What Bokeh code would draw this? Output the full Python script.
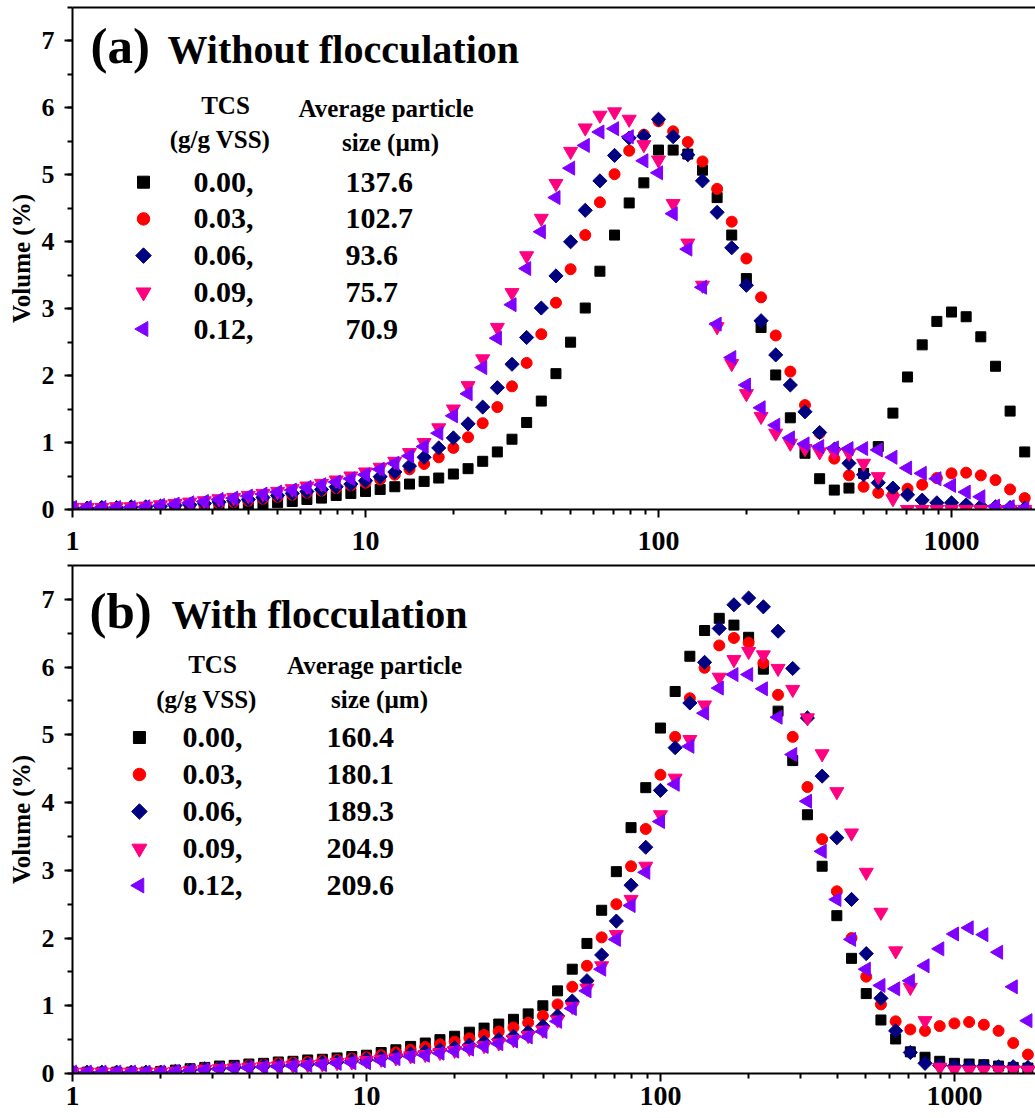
import math
from bokeh.plotting import figure
from bokeh.models import (Range1d, FixedTicker, SingleIntervalTicker, LinearAxis,
                          LinearScale, Label)
from bokeh.layouts import column
from bokeh.embed import file_html
from bokeh.resources import INLINE

FONT = "Liberation Serif"

# particle size bins (um)
SIZE_UM = [1.000, 1.122, 1.259, 1.413, 1.585, 1.778, 1.995, 2.239, 2.512, 2.818,
           3.162, 3.548, 3.981, 4.467, 5.012, 5.623, 6.310, 7.079, 7.943, 8.913,
           10.00, 11.22, 12.59, 14.13, 15.85, 17.78, 19.95, 22.39, 25.12, 28.18,
           31.62, 35.48, 39.81, 44.67, 50.12, 56.23, 63.10, 70.79, 79.43, 89.13,
           100.0, 112.2, 125.9, 141.3, 158.5, 177.8, 199.5, 223.9, 251.2, 281.8,
           316.2, 354.8, 398.1, 446.7, 501.2, 562.3, 631.0, 707.9, 794.3, 891.3,
           1000, 1122, 1259, 1413, 1585, 1778]

TCS = ["0.00", "0.03", "0.06", "0.09", "0.12"]
AVG_SIZE_A = ["137.6", "102.7", "93.6", "75.7", "70.9"]
AVG_SIZE_B = ["160.4", "180.1", "189.3", "204.9", "209.6"]

X_TICKS = [1, 10, 100, 1000]
X_TICK_LABELS = ["1", "10", "100", "1000"]

# (a) Without flocculation: volume (%)
VOL_A_000 = [0.01, 0.01, 0.01, 0.01, 0.01, 0.02, 0.02, 0.025, 0.03, 0.04, 0.05, 0.06, 0.07,
             0.08, 0.10, 0.12, 0.15, 0.17, 0.21, 0.24, 0.27, 0.30, 0.34, 0.38, 0.42, 0.47,
             0.53, 0.61, 0.72, 0.86, 1.05, 1.30, 1.62, 2.03, 2.50, 3.01, 3.56, 4.10, 4.58,
             4.88, 5.37, 5.37, 5.31, 5.07, 4.66, 4.10, 3.45, 2.72, 2.01, 1.37, 0.84, 0.46,
             0.29, 0.32, 0.54, 0.94, 1.44, 1.98, 2.46, 2.81, 2.95, 2.88, 2.58, 2.14, 1.47, 0.86]
VOL_A_003 = [0.02, 0.02, 0.02, 0.02, 0.02, 0.03, 0.03, 0.04, 0.05, 0.07, 0.09, 0.11, 0.13,
             0.16, 0.19, 0.22, 0.25, 0.28, 0.32, 0.36, 0.40, 0.45, 0.52, 0.60, 0.68, 0.78,
             0.92, 1.08, 1.29, 1.53, 1.84, 2.19, 2.62, 3.09, 3.59, 4.10, 4.59, 5.01, 5.36,
             5.60, 5.80, 5.65, 5.49, 5.20, 4.79, 4.30, 3.75, 3.17, 2.60, 2.06, 1.56, 1.14,
             0.76, 0.51, 0.34, 0.25, 0.22, 0.31, 0.37, 0.47, 0.54, 0.55, 0.51, 0.44, 0.30, 0.17]
VOL_A_006 = [0.02, 0.02, 0.03, 0.03, 0.04, 0.04, 0.05, 0.06, 0.07, 0.09, 0.11, 0.13, 0.15,
             0.18, 0.21, 0.24, 0.27, 0.30, 0.34, 0.38, 0.43, 0.49, 0.56, 0.65, 0.78, 0.92,
             1.07, 1.28, 1.53, 1.82, 2.17, 2.57, 3.01, 3.49, 4.00, 4.47, 4.91, 5.29, 5.55,
             5.58, 5.83, 5.57, 5.30, 4.91, 4.44, 3.91, 3.35, 2.82, 2.31, 1.86, 1.46, 1.15,
             0.90, 0.69, 0.52, 0.40, 0.32, 0.22, 0.14, 0.10, 0.10, 0.07, 0.05, 0.04, 0.03, 0.02]
VOL_A_009 = [0.03, 0.03, 0.03, 0.04, 0.04, 0.05, 0.07, 0.09, 0.11, 0.13, 0.16, 0.18, 0.21,
             0.24, 0.27, 0.31, 0.35, 0.39, 0.44, 0.50, 0.56, 0.63, 0.72, 0.85, 1.00, 1.22,
             1.50, 1.85, 2.25, 2.72, 3.24, 3.79, 4.35, 4.87, 5.35, 5.70, 5.89, 5.94, 5.83,
             5.45, 5.22, 4.57, 3.98, 3.35, 2.73, 2.18, 1.73, 1.39, 1.14, 0.99, 0.91, 0.86,
             0.85, 0.84, 0.69, 0.49, 0.16, 0.0, 0.0, 0.0, 0.0, 0.0, 0.0, 0.0, 0.0, 0.0]
VOL_A_012 = [0.03, 0.03, 0.03, 0.03, 0.03, 0.04, 0.06, 0.08, 0.10, 0.12, 0.15, 0.17, 0.20,
             0.23, 0.26, 0.29, 0.33, 0.37, 0.41, 0.46, 0.52, 0.60, 0.69, 0.80, 0.94, 1.14,
             1.40, 1.73, 2.12, 2.56, 3.06, 3.60, 4.15, 4.66, 5.10, 5.44, 5.64, 5.69, 5.57,
             5.21, 5.03, 4.42, 3.89, 3.32, 2.77, 2.27, 1.86, 1.52, 1.26, 1.07, 0.98, 0.94,
             0.92, 0.91, 0.91, 0.89, 0.78, 0.62, 0.54, 0.46, 0.36, 0.26, 0.19, 0.05, 0.04, 0.02]

# (b) With flocculation: volume (%)
VOL_B_000 = [0.02, 0.02, 0.02, 0.02, 0.02, 0.02, 0.03, 0.05, 0.07, 0.09, 0.11, 0.12, 0.14,
             0.15, 0.17, 0.18, 0.20, 0.21, 0.23, 0.25, 0.27, 0.31, 0.35, 0.40, 0.45, 0.50,
             0.55, 0.61, 0.67, 0.73, 0.80, 0.88, 1.00, 1.22, 1.54, 1.92, 2.41, 2.98, 3.63,
             4.22, 5.10, 5.64, 6.16, 6.54, 6.72, 6.62, 6.44, 5.97, 5.35, 4.62, 3.82, 3.06,
             2.33, 1.70, 1.18, 0.79, 0.51, 0.32, 0.24, 0.18, 0.15, 0.14, 0.13, 0.11, 0.09, 0.08]
VOL_B_003 = [0.02, 0.02, 0.02, 0.02, 0.02, 0.02, 0.03, 0.04, 0.06, 0.08, 0.09, 0.10, 0.12,
             0.13, 0.15, 0.16, 0.17, 0.19, 0.20, 0.22, 0.24, 0.27, 0.31, 0.35, 0.39, 0.43,
             0.47, 0.52, 0.57, 0.62, 0.68, 0.75, 0.85, 1.02, 1.28, 1.59, 2.01, 2.50, 3.06,
             3.61, 4.41, 4.97, 5.54, 5.99, 6.32, 6.43, 6.36, 6.06, 5.59, 4.97, 4.23, 3.46,
             2.69, 2.00, 1.43, 1.02, 0.77, 0.65, 0.63, 0.70, 0.74, 0.76, 0.72, 0.63, 0.45, 0.28]
VOL_B_006 = [0.02, 0.02, 0.02, 0.02, 0.02, 0.02, 0.02, 0.03, 0.05, 0.07, 0.08, 0.09, 0.10,
             0.11, 0.12, 0.13, 0.14, 0.16, 0.17, 0.19, 0.21, 0.23, 0.26, 0.29, 0.32, 0.35,
             0.38, 0.42, 0.46, 0.50, 0.55, 0.61, 0.70, 0.85, 1.07, 1.37, 1.75, 2.25, 2.78,
             3.34, 4.18, 4.81, 5.47, 6.07, 6.57, 6.92, 7.02, 6.89, 6.53, 5.98, 5.25, 4.39,
             3.48, 2.57, 1.77, 1.11, 0.63, 0.31, 0.15, 0.12, 0.11, 0.11, 0.11, 0.10, 0.10, 0.09]
VOL_B_009 = [0.02, 0.02, 0.02, 0.02, 0.02, 0.02, 0.02, 0.03, 0.04, 0.06, 0.07, 0.08, 0.09,
             0.10, 0.11, 0.12, 0.13, 0.14, 0.16, 0.17, 0.19, 0.21, 0.23, 0.26, 0.28, 0.31,
             0.34, 0.37, 0.41, 0.45, 0.50, 0.56, 0.64, 0.79, 0.99, 1.26, 1.59, 2.05, 2.57,
             3.06, 3.82, 4.36, 4.93, 5.44, 5.85, 6.11, 6.23, 6.18, 5.98, 5.67, 5.25, 4.72,
             4.16, 3.55, 2.97, 2.38, 1.81, 1.27, 0.78, 0.09, 0.05, 0.05, 0.05, 0.05, 0.05, 0.05]
VOL_B_012 = [0.02, 0.02, 0.02, 0.02, 0.02, 0.02, 0.02, 0.03, 0.04, 0.05, 0.06, 0.07, 0.08,
             0.09, 0.10, 0.11, 0.12, 0.13, 0.15, 0.16, 0.16, 0.19, 0.22, 0.25, 0.27, 0.30,
             0.33, 0.36, 0.40, 0.44, 0.48, 0.54, 0.62, 0.77, 0.96, 1.22, 1.54, 1.98, 2.48,
             2.97, 3.72, 4.27, 4.83, 5.32, 5.69, 5.89, 5.89, 5.68, 5.26, 4.71, 4.02, 3.28,
             2.57, 1.98, 1.54, 1.30, 1.25, 1.37, 1.59, 1.84, 2.06, 2.15, 2.05, 1.79, 1.28, 0.78]

SERIES_A = [VOL_A_000, VOL_A_003, VOL_A_006, VOL_A_009, VOL_A_012]
SERIES_B = [VOL_B_000, VOL_B_003, VOL_B_006, VOL_B_009, VOL_B_012]

# marker styles (Origin-like: square, circle, diamond, down triangle, left triangle)
STYLES = [
    dict(marker="square", size=10, lsize=12, angle=0.0, color="#000000"),
    dict(marker="circle", size=11, lsize=12.5, angle=0.0, color="#FF0000"),
    dict(marker="square", size=10, lsize=11, angle=math.pi / 4, color="#000080"),
    dict(marker="inverted_triangle", size=14, lsize=15, angle=0.0, color="#FF0080"),
    dict(marker="triangle", size=14, lsize=15, angle=math.pi / 2, color="#8000FF"),
]


def style_axis(ax, font_size):
    ax.axis_line_width = 2
    ax.axis_line_color = "black"
    ax.major_tick_line_width = 2
    ax.minor_tick_line_width = 2
    ax.major_tick_line_color = "black"
    ax.minor_tick_line_color = "black"
    ax.major_tick_in = 0
    ax.major_tick_out = 8
    ax.minor_tick_in = 0
    ax.minor_tick_out = 5
    ax.major_label_text_font = FONT
    ax.major_label_text_font_style = "bold"
    ax.major_label_text_font_size = font_size
    ax.major_label_text_color = "black"


def make_panel(series, avg_sizes, letter, title, cfg):
    fw = 1035 - cfg["left"]
    fh = cfg["height"] - cfg["top"] - cfg["bottom"]
    p = figure(width=1035, height=cfg["height"], x_axis_type="log",
               x_range=Range1d(1, cfg["x_end"]), y_range=Range1d(0, 7.5),
               output_backend="svg", toolbar_location=None,
               min_border_left=cfg["left"], min_border_right=0,
               min_border_top=cfg["top"], min_border_bottom=cfg["bottom"])
    p.grid.visible = False
    p.outline_line_color = None
    p.background_fill_color = "white"
    p.border_fill_color = "white"
    # pixel-like helper ranges for the hand-made legend
    p.extra_x_ranges = {"px": Range1d(0, fw)}
    p.extra_x_scales = {"px": LinearScale()}
    p.extra_y_ranges = {"py": Range1d(0, fh)}
    p.extra_y_scales = {"py": LinearScale()}

    xa = p.xaxis[0]
    minor = [m * 10 ** e for e in range(4) for m in range(2, 10)]
    xa.ticker = FixedTicker(ticks=X_TICKS, minor_ticks=minor)
    xa.major_label_overrides = {t: l for t, l in zip(X_TICKS, X_TICK_LABELS)}
    style_axis(xa, "28px")
    xa.major_label_standoff = cfg["xstandoff"]

    ya = p.yaxis[0]
    ya.ticker = SingleIntervalTicker(interval=1, num_minor_ticks=2)
    style_axis(ya, "26px")
    ya.major_label_standoff = 10
    ya.axis_label = "Volume (%)"
    ya.axis_label_text_font = FONT
    ya.axis_label_text_font_style = "bold"
    ya.axis_label_text_font_size = "25px"
    ya.axis_label_text_color = "black"
    ya.axis_label_standoff = 4

    top = LinearAxis(ticker=FixedTicker(ticks=[]), axis_line_width=2, axis_line_color="black",
                     major_tick_line_color=None, minor_tick_line_color=None,
                     major_label_text_font_size="1px", major_label_standoff=0)
    p.add_layout(top, "above")

    def lab(text, x, y, size, align="left"):
        p.add_layout(Label(x=x, y=y, x_units="screen", y_units="screen", text=text,
                           text_font=FONT, text_font_style="bold", text_font_size=size,
                           text_color="black", text_align=align,
                           text_baseline="middle"))

    # data
    for vals, st in zip(series, STYLES):
        p.scatter(SIZE_UM, vals, marker=st["marker"], size=st["size"],
                  angle=st["angle"], color=st["color"])

    # legend (markers + two text columns)
    y0, pitch = cfg["row0"], cfg["pitch"]
    for i, (st, tcs, avg) in enumerate(zip(STYLES, TCS, avg_sizes)):
        ry = y0 - i * pitch
        p.scatter([cfg["mark_x"]], [ry], x_range_name="px", y_range_name="py",
                  marker=st["marker"], size=st["lsize"], angle=st["angle"],
                  color=st["color"])
        lab(tcs + ",", cfg["col1_x"], ry, "30px")
        lab(avg, cfg["col2_x"], ry, "30px")

    tx, ty = cfg["title_pos"]
    lab(letter, tx, ty, "51px")
    lab(title, cfg["title_x2"], cfg["title_y2"], "40px")
    h = cfg["headers"]
    lab("TCS", *h[0], "25px", "center")
    lab("(g/g VSS)", *h[1], "25px", "center")
    lab("Average particle", *h[2], "25px", "center")
    lab("size (\u00b5m)", *h[3], "25px", "center")
    return p


cfg_a = dict(height=563, top=7, bottom=54, left=72, x_end=1935, xstandoff=14,
             row0=327.3, pitch=36.7, mark_x=71, col1_x=121, col2_x=273,
             title_pos=(18, 464), title_x2=95, title_y2=460.5,
             headers=[(153, 404), (147.5, 370.5), (313.5, 401), (318, 367)])
cfg_b = dict(height=555, top=2, bottom=45, left=71, x_end=1887, xstandoff=5,
             row0=336, pitch=37, mark_x=67, col1_x=110, col2_x=254,
             title_pos=(17, 462.5), title_x2=99, title_y2=459,
             headers=[(140, 409.5), (134, 374.5), (302, 408.5), (307, 374.5)])

pa = make_panel(SERIES_A, AVG_SIZE_A, "(a)", "Without flocculation", cfg_a)
pb = make_panel(SERIES_B, AVG_SIZE_B, "(b)", "With flocculation", cfg_b)

layout = column(pa, pb, spacing=0)
open("out.html", "w").write(file_html(layout, INLINE))
